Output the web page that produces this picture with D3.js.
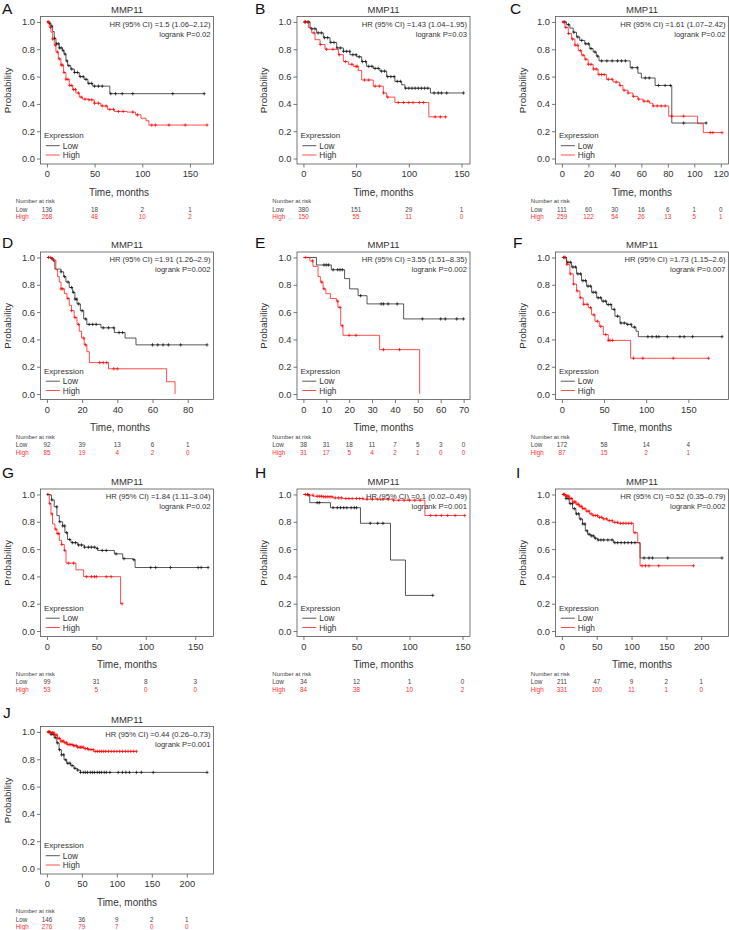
<!DOCTYPE html>
<html><head><meta charset="utf-8">
<script src="https://cdn.jsdelivr.net/npm/d3@7"></script>
<style>body{margin:0;background:#fff}svg{display:block}text{font-family:"Liberation Sans",Arial,Helvetica,sans-serif}</style>
</head><body>
<script>
// ---------- DATA ----------
// Each step array: [time (months), survival after step]; last entry = end of follow-up.
const aLowSteps=[[0,1],[2,0.99],[4,0.97],[6,0.93],[7.7,0.88],[9.5,0.84],[13,0.81],[16.4,0.79],[18,0.765],[20,0.715],[21.7,0.68],[25,0.655],[28.7,0.63],[34,0.6],[39,0.58],[43,0.55],[48,0.53],[66,0.475],[165,0.475]];
const aLowCens=[3,5,8,10,12,13,15,17,19,21,23,26,29,32,35,38,41,44,47,50,54,58,67,72,79,90,132,165];
const aHighSteps=[[0,1],[2.4,0.96],[4.2,0.925],[6,0.875],[7.7,0.83],[9.5,0.78],[12,0.73],[14.7,0.685],[17.5,0.63],[20,0.58],[23.4,0.535],[27,0.505],[30.4,0.48],[34,0.45],[37.4,0.435],[44,0.43],[49.6,0.405],[56.6,0.385],[63.6,0.36],[70.6,0.345],[84,0.34],[93,0.32],[98.6,0.295],[104,0.277],[107,0.245],[168,0.245]];
const aHighCens=[1,2,4,6,9,11,13,15,16,18,20,22,24,26,28,30,33,36,40,44,47,50,54,58,62,66,70,75,80,90,95,110,114,128,145,168];

const bLowSteps=[[0,1],[6.3,0.95],[12.6,0.92],[18.9,0.885],[25.3,0.85],[31.6,0.81],[37.9,0.785],[44.2,0.76],[50.5,0.745],[55.3,0.71],[60,0.675],[66.3,0.66],[72.6,0.64],[79,0.6],[86.8,0.565],[93.2,0.54],[96.3,0.515],[120.5,0.48],[152,0.48]];
const bLowCens=[2,5,8,11,14,17,20,23,26,29,32,35,38,41,44,47,50,53,56,59,62,65,68,71,74,77,80,83,86,89,92,97,100,103,106,109,112,115,118,124,128,131,136,152];
const bHighSteps=[[0,1],[4.7,0.96],[7.9,0.92],[11,0.87],[15.8,0.835],[20.5,0.8],[33.2,0.76],[37.9,0.71],[42.6,0.69],[47.4,0.675],[52.1,0.645],[55.3,0.575],[66.3,0.53],[75.8,0.48],[79,0.45],[86.8,0.41],[119,0.305],[135,0.305]];
const bHighCens=[1,4,10,16,22,28,34,40,46,50,51,58,62,68,72,76,80,90,95,100,104,110,114,125,130,135];

const cLowSteps=[[0,1],[3.5,0.98],[6,0.955],[8.5,0.925],[11,0.89],[13.5,0.865],[17.3,0.84],[21,0.805],[23.6,0.78],[26,0.75],[28,0.715],[51.6,0.665],[57.4,0.625],[60,0.59],[70.4,0.535],[83,0.26],[109,0.26]];
const cLowCens=[2,5,9,12,15,18,20,22,25,27,30,34,38,42,45,48,53,57,63,66,73,78,82,92,109];
const cHighSteps=[[0,1],[2.3,0.96],[4.8,0.915],[7.3,0.875],[9.8,0.83],[12.3,0.79],[14.8,0.757],[17.3,0.727],[19.8,0.69],[23.6,0.655],[27.3,0.615],[33.6,0.58],[38.6,0.56],[43.6,0.535],[46.1,0.5],[49.9,0.48],[53.6,0.455],[57.4,0.435],[61.2,0.42],[66.2,0.405],[68.7,0.385],[80.7,0.31],[102.5,0.255],[106.8,0.19],[121,0.19]];
const cHighCens=[1,3,5,8,10,12,14,16,18,20,22,24,26,28,30,32,35,38,41,44,47,50,54,58,62,65,69,72,75,78,83,92,112,114,121];

const dLowSteps=[[0,1],[2.3,0.99],[3.8,0.97],[4.5,0.915],[8,0.895],[9.5,0.86],[10.8,0.82],[12.7,0.78],[14.6,0.745],[15.9,0.695],[17.1,0.66],[19,0.61],[20.9,0.55],[22.7,0.51],[30.7,0.485],[38.3,0.45],[44.4,0.41],[50.6,0.36],[91,0.36]];
const dLowCens=[1,3,8,10,12,14,15,16,17,18,20,22,24,26,28,32,35,38,41,43,60,63,66,69,76,91];
const dHighSteps=[[0,1],[3.2,0.98],[5.1,0.91],[6.1,0.86],[7,0.82],[8,0.77],[9.9,0.735],[11.4,0.7],[12.7,0.65],[14,0.61],[15.5,0.56],[17.1,0.51],[18.4,0.46],[19.7,0.41],[21.2,0.36],[22.7,0.31],[24.1,0.23],[35,0.185],[68,0.09],[72.8,0]];
const dHighCens=[2,4,8,9,12,14,16,18,21,22,30,32,34,38,40];

const eLowSteps=[[0,1],[5.7,0.945],[12.2,0.91],[18,0.845],[20.2,0.77],[23.9,0.72],[27.8,0.66],[43.8,0.55],[70,0.55]];
const eLowCens=[9,10,11,13,15,16,17,25,34,35,37,41,52,60,62,67,70];
const eHighSteps=[[0,1],[2.8,0.975],[4.2,0.935],[6.4,0.86],[7.4,0.82],[8.6,0.77],[9.8,0.735],[11.8,0.7],[14.4,0.68],[15.1,0.635],[16.3,0.5],[17.3,0.43],[33.3,0.325],[50.8,0]];
const eHighCens=[1,4,8,9,15,16,17,20,23,35,42];

const fLowSteps=[[0,1],[5.5,0.965],[11.5,0.93],[17.4,0.88],[23.3,0.83],[29.3,0.79],[35.2,0.745],[41.2,0.705],[47.1,0.68],[53,0.655],[59,0.62],[62.9,0.57],[68.9,0.52],[76.8,0.51],[82.7,0.49],[87.9,0.46],[90.6,0.42],[190,0.42]];
const fLowCens=[2,4,7,10,13,16,19,22,25,28,31,34,37,40,43,46,49,52,55,58,62,66,70,74,78,82,86,102,107,112,115,125,140,145,155,190];
const fHighSteps=[[0,1],[5.5,0.95],[9.5,0.88],[13.5,0.805],[17.4,0.755],[21.4,0.705],[25.3,0.657],[31.3,0.632],[35.2,0.58],[39.2,0.533],[44.3,0.496],[49.1,0.435],[55,0.393],[81.5,0.262],[174,0.262]];
const fHighCens=[3,6,10,14,18,22,26,30,34,38,42,46,52,55,57,60,85,96,132,174];

const gLowSteps=[[0,1],[3.4,0.995],[4.7,0.96],[7.4,0.91],[10.1,0.845],[12.5,0.8],[15.9,0.77],[18.2,0.72],[20.9,0.67],[24.3,0.647],[31.1,0.63],[37.8,0.614],[49.7,0.605],[51.4,0.59],[68.2,0.565],[76.7,0.53],[86.8,0.522],[89.2,0.465],[163,0.465]];
const gLowCens=[1,5,10,13,16,18,20,23,26,29,32,35,38,42,45,48,51,56,60,70,78,88,105,110,125,153,156,163];
const gHighSteps=[[0,1],[2.4,0.933],[4.1,0.858],[5.7,0.784],[8.1,0.746],[10.1,0.714],[12.5,0.664],[14.9,0.634],[17.6,0.59],[19.3,0.497],[29.4,0.448],[37.2,0.398],[74.5,0.2],[76,0.2]];
const gHighCens=[3,5,9,11,12,15,18,22,27,40,45,48,50,60,65,76];

const hLowSteps=[[0,1],[6,0.94],[25.5,0.903],[53.8,0.789],[82.1,0.52],[96.2,0.261],[122,0.261]];
const hLowCens=[4,13,15,28,32,35,38,41,45,48,50,63,70,75,122];
const hHighSteps=[[0,1],[2.8,0.995],[9.1,0.987],[18.6,0.983],[28,0.975],[37.4,0.97],[56.3,0.965],[84.6,0.958],[114.5,0.846],[152,0.846]];
const hHighCens=[2,5,9,13,15,17,19,21,23,25,27,30,33,36,40,43,46,50,53,56,60,65,70,75,80,85,90,95,100,105,110,120,125,130,136,143,152];

const iLowSteps=[[0,1],[5.8,0.97],[10.6,0.933],[15.3,0.896],[20.1,0.858],[24.9,0.82],[29.7,0.784],[33.6,0.734],[36.9,0.709],[41.7,0.697],[46.5,0.68],[51.3,0.667],[74.3,0.647],[112.2,0.535],[230,0.535]];
const iLowCens=[3,6,9,12,15,18,21,24,27,30,33,36,39,42,45,48,52,56,60,66,72,76,80,85,90,95,100,105,118,125,130,152,230];
const iHighSteps=[[0,1],[5.8,0.988],[10.6,0.97],[15.3,0.945],[20.1,0.928],[24.9,0.913],[29.7,0.896],[34.5,0.878],[39.3,0.858],[44.1,0.846],[51.3,0.833],[58.5,0.821],[65.7,0.808],[72.9,0.796],[80.1,0.789],[102.6,0.72],[108.9,0.645],[112.2,0.478],[189,0.478]];
const iHighCens=[2,4,6,8,10,12,14,16,18,20,22,24,26,28,30,33,36,39,42,45,48,51,54,57,60,64,68,72,76,80,84,88,92,96,100,105,115,120,125,139,189];

const jLowSteps=[[0,1],[5.6,0.983],[10.4,0.958],[14.1,0.92],[17.4,0.87],[20.7,0.833],[24.5,0.796],[28.2,0.771],[33.9,0.754],[38.6,0.734],[43.3,0.721],[48,0.704],[229,0.704]];
const jLowCens=[3,6,9,12,15,18,21,24,27,30,33,36,40,44,48,52,55,58,62,65,68,72,75,78,82,85,90,102,108,113,118,128,135,152,229];
const jHighSteps=[[0,1],[5.6,0.995],[10.4,0.978],[15.1,0.953],[19.8,0.933],[24.5,0.92],[29.2,0.908],[36.2,0.9],[43.3,0.888],[52.7,0.878],[59.8,0.871],[66.8,0.858],[128,0.858]];
const jHighCens=[2,4,6,8,10,12,14,16,18,20,22,24,26,28,30,32,34,36,38,40,42,44,46,48,50,52,55,58,60,63,66,69,72,75,78,81,84,88,92,96,100,104,108,112,116,120,124,128];

// x ticks (months) = risk-table time points
const ticks150=[0,50,100,150];
const ticksC=[0,20,40,60,80,100,120];
const ticksD=[0,20,40,60,80];
const ticksE=[0,10,20,30,40,50,60,70];
const ticks200=[0,50,100,150,200];
const yTicks=[0,0.2,0.4,0.6,0.8,1.0];

// Number at risk
const aRiskLow=[136,18,2,1], aRiskHigh=[268,48,10,2];
const bRiskLow=[380,151,29,1], bRiskHigh=[150,55,11,0];
const cRiskLow=[111,60,30,16,6,1,0], cRiskHigh=[259,122,54,26,13,5,1];
const dRiskLow=[92,39,13,6,1], dRiskHigh=[85,19,4,2,0];
const eRiskLow=[38,31,18,11,7,5,3,0], eRiskHigh=[31,17,5,4,2,1,0,0];
const fRiskLow=[172,58,14,4], fRiskHigh=[87,15,2,1];
const gRiskLow=[99,31,8,3], gRiskHigh=[53,5,0,0];
const hRiskLow=[34,12,1,0], hRiskHigh=[84,38,10,2];
const iRiskLow=[211,47,9,2,1], iRiskHigh=[331,100,11,1,0];
const jRiskLow=[146,36,9,2,1], jRiskHigh=[276,79,7,0,0];

const hrTexts=["HR (95% CI) =1.5 (1.06–2.12)","HR (95% CI) =1.43 (1.04–1.95)","HR (95% CI) =1.61 (1.07–2.42)","HR (95% CI) =1.91 (1.26–2.9)","HR (95% CI) =3.55 (1.51–8.35)","HR (95% CI) =1.73 (1.15–2.6)","HR (95% CI) =1.84 (1.11–3.04)","HR (95% CI) =0.1 (0.02–0.49)","HR (95% CI) =0.52 (0.35–0.79)","HR (95% CI) =0.44 (0.26–0.73)"];
const pTexts=["logrank P=0.02","logrank P=0.03","logrank P=0.02","logrank P=0.002","logrank P=0.002","logrank P=0.007","logrank P=0.02","logrank P=0.001","logrank P=0.002","logrank P=0.001"];
const letters=["A","B","C","D","E","F","G","H","I","J"];
const xMaxes=[168,152,121,91,70,190,162,151,230,229];

// ---------- LAYOUT ----------
const colLeft=[40.5,297,555.5], rowTop=[16.5,252,489,726.5];
const letterX=[2,255,510,2,255,513,2,255,516,3];
const letterY=[14,14,14,248,248,248,478,478,478,718];
const xlabDx=[-8,0,0,-7,0,0,0,0,0,0];
const W=173, H=147.5;
const LOW="#111", HIGH="#ff0000", TXT="#333";

const panels=[
 {low:aLowSteps,lowC:aLowCens,high:aHighSteps,highC:aHighCens,ticks:ticks150,rl:aRiskLow,rh:aRiskHigh},
 {low:bLowSteps,lowC:bLowCens,high:bHighSteps,highC:bHighCens,ticks:ticks150,rl:bRiskLow,rh:bRiskHigh},
 {low:cLowSteps,lowC:cLowCens,high:cHighSteps,highC:cHighCens,ticks:ticksC,rl:cRiskLow,rh:cRiskHigh},
 {low:dLowSteps,lowC:dLowCens,high:dHighSteps,highC:dHighCens,ticks:ticksD,rl:dRiskLow,rh:dRiskHigh},
 {low:eLowSteps,lowC:eLowCens,high:eHighSteps,highC:eHighCens,ticks:ticksE,rl:eRiskLow,rh:eRiskHigh},
 {low:fLowSteps,lowC:fLowCens,high:fHighSteps,highC:fHighCens,ticks:ticks150,rl:fRiskLow,rh:fRiskHigh},
 {low:gLowSteps,lowC:gLowCens,high:gHighSteps,highC:gHighCens,ticks:ticks150,rl:gRiskLow,rh:gRiskHigh},
 {low:hLowSteps,lowC:hLowCens,high:hHighSteps,highC:hHighCens,ticks:ticks150,rl:hRiskLow,rh:hRiskHigh},
 {low:iLowSteps,lowC:iLowCens,high:iHighSteps,highC:iHighCens,ticks:ticks200,rl:iRiskLow,rh:iRiskHigh},
 {low:jLowSteps,lowC:jLowCens,high:jHighSteps,highC:jHighCens,ticks:ticks200,rl:jRiskLow,rh:jRiskHigh}
];

const svg=d3.select("body").append("svg").attr("width",729).attr("height",930);
svg.append("rect").attr("width",729).attr("height",930).attr("fill","#fff");
const bis=d3.bisector(d=>d[0]).right;

panels.forEach((p,i)=>{
  const L=colLeft[i%3], T=rowTop[Math.floor(i/3)], B=T+H, R=L+W;
  const xm=xMaxes[i];
  const x=d3.scaleLinear().domain([-0.04*xm,1.04*xm]).range([L,R]);
  const y=d3.scaleLinear().domain([-0.04,1.04]).range([B,T]);
  const g=svg.append("g");

  // letter & title
  g.append("text").attr("x",letterX[i]).attr("y",letterY[i]).attr("font-size",15.5).attr("fill","#111").text(letters[i]);
  g.append("text").attr("x",(L+R)/2).attr("y",T-4).attr("text-anchor","middle").attr("font-size",9.5).attr("fill",TXT).text("MMP11");

  // box
  g.append("rect").attr("x",L).attr("y",T).attr("width",W).attr("height",H).attr("fill","none").attr("stroke","#555").attr("stroke-width",0.8);

  // axes
  const xa=g.append("g").attr("transform",`translate(0,${B})`).call(d3.axisBottom(x).tickValues(p.ticks).tickSize(3.5).tickPadding(3).tickFormat(d3.format("d")));
  const ya=g.append("g").attr("transform",`translate(${L},0)`).call(d3.axisLeft(y).tickValues(yTicks).tickSize(3.5).tickPadding(2).tickFormat(d3.format(".1f")));
  [xa,ya].forEach(a=>{a.select(".domain").remove();a.selectAll("line").attr("stroke","#555").attr("stroke-width",0.8);
    a.selectAll("text").attr("font-size",9.3).attr("fill",TXT).attr("font-family","Liberation Sans, Arial, sans-serif");});

  g.append("text").attr("x",(L+R)/2+xlabDx[i]).attr("y",B+31.5).attr("text-anchor","middle").attr("font-size",10).attr("fill",TXT).text("Time, months");
  g.append("text").attr("transform",`translate(${L-30},${(T+B)/2}) rotate(-90)`).attr("text-anchor","middle").attr("font-size",9.8).attr("fill",TXT).text("Probability");

  // curves
  const line=d3.line().x(d=>x(d[0])).y(d=>y(d[1])).curve(d3.curveStepAfter);
  [[p.low,p.lowC,LOW],[p.high,p.highC,HIGH]].forEach(([st,cs,col])=>{
    g.append("path").datum(st).attr("d",line).attr("fill","none").attr("stroke",col).attr("stroke-width",0.7);
    g.append("g").selectAll("path").data(cs).join("path")
      .attr("d",t=>{const k=Math.max(0,bis(st,t)-1);const px=x(t),py=y(st[k][1]);return `M${px-1.5},${py}h3M${px},${py-1.7}v3.4`;})
      .attr("stroke",col).attr("stroke-width",0.7).attr("fill","none");
  });

  // HR text
  g.append("text").attr("x",R-3).attr("y",T+10).attr("text-anchor","end").attr("font-size",7.6).attr("fill",TXT).text(hrTexts[i]);
  g.append("text").attr("x",R-3).attr("y",T+20).attr("text-anchor","end").attr("font-size",7.6).attr("fill",TXT).text(pTexts[i]);

  // legend
  g.append("text").attr("x",L+3.5).attr("y",B-26).attr("font-size",8).attr("fill",TXT).text("Expression");
  [["Low",LOW,B-18.3],["High",HIGH,B-9]].forEach(([lab,col,yy])=>{
    g.append("line").attr("x1",L+5.3).attr("x2",L+19.3).attr("y1",yy).attr("y2",yy).attr("stroke",col).attr("stroke-width",0.7);
    g.append("text").attr("x",L+22.3).attr("y",yy+3).attr("font-size",8.3).attr("fill",TXT).text(lab);
  });

  // risk table
  const rx=L-24.7;
  g.append("text").attr("x",rx).attr("y",B+39).attr("font-size",6).attr("fill","#444").text("Number at risk");
  g.append("text").attr("x",rx).attr("y",B+47.7).attr("font-size",6.3).attr("fill","#444").text("Low");
  g.append("text").attr("x",rx).attr("y",B+55).attr("font-size",6.3).attr("fill","#ff3030").text("High");
  g.append("g").selectAll("text").data(p.rl).join("text").attr("x",(d,k)=>x(p.ticks[k])).attr("y",B+47.7)
    .attr("text-anchor","middle").attr("font-size",6.3).attr("fill","#444").text(d=>d);
  g.append("g").selectAll("text").data(p.rh).join("text").attr("x",(d,k)=>x(p.ticks[k])).attr("y",B+55)
    .attr("text-anchor","middle").attr("font-size",6.3).attr("fill","#ff3030").text(d=>d);
});
</script>
</body></html>
